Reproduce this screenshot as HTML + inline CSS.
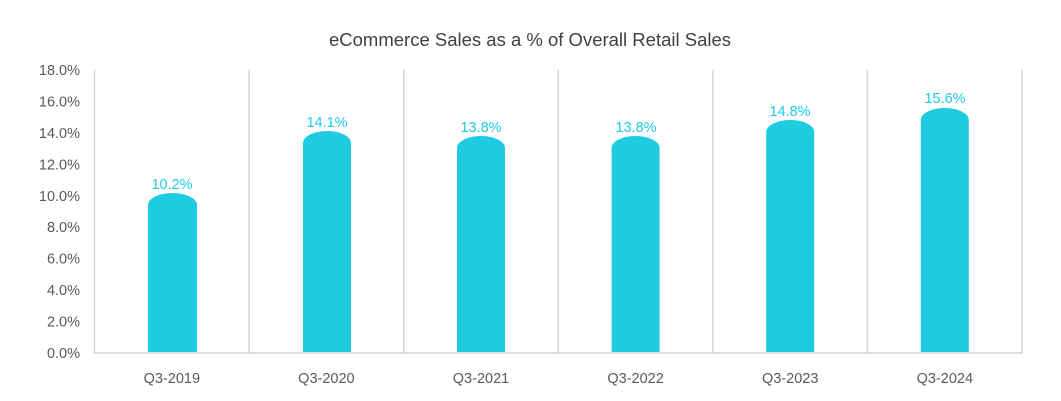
<!DOCTYPE html>
<html><head><meta charset="utf-8"><style>
html,body{margin:0;padding:0;background:#fff;}
svg{display:block;font-family:"Liberation Sans",sans-serif;}
</style></head><body>
<svg width="1061" height="401" viewBox="0 0 1061 401" xmlns="http://www.w3.org/2000/svg">
<rect width="1061" height="401" fill="#fff"/>
<text x="530" y="46" text-anchor="middle" font-size="18.5" fill="#404040">eCommerce Sales as a % of Overall Retail Sales</text>
<g stroke="#d3d3d3" stroke-width="1.5">
<line x1="94.5" y1="70" x2="94.5" y2="353"/>
<line x1="249.1" y1="70" x2="249.1" y2="353"/>
<line x1="403.7" y1="70" x2="403.7" y2="353"/>
<line x1="558.3" y1="70" x2="558.3" y2="353"/>
<line x1="712.9" y1="70" x2="712.9" y2="353"/>
<line x1="867.5" y1="70" x2="867.5" y2="353"/>
<line x1="1022" y1="70" x2="1022" y2="353"/>
<line x1="94.5" y1="353" x2="1022" y2="353"/>
</g>
<g font-size="14.5" fill="#595959" text-anchor="end">
<text x="80" y="75">18.0%</text>
<text x="80" y="106.4">16.0%</text>
<text x="80" y="137.9">14.0%</text>
<text x="80" y="169.3">12.0%</text>
<text x="80" y="200.8">10.0%</text>
<text x="80" y="232.2">8.0%</text>
<text x="80" y="263.7">6.0%</text>
<text x="80" y="295.1">4.0%</text>
<text x="80" y="326.6">2.0%</text>
<text x="80" y="358">0.0%</text>
</g>
<g font-size="14.5" fill="#595959" text-anchor="middle">
<text x="171.8" y="383">Q3-2019</text>
<text x="326.4" y="383">Q3-2020</text>
<text x="481" y="383">Q3-2021</text>
<text x="635.6" y="383">Q3-2022</text>
<text x="790.2" y="383">Q3-2023</text>
<text x="944.8" y="383">Q3-2024</text>
</g>
<g fill="#1ecbe1">
<path d="M148 352 L148 205 A24.5 12 0 0 1 197 205 L197 352 Z"/>
<path d="M303 352 L303 143 A24 12 0 0 1 351 143 L351 352 Z"/>
<path d="M457 352 L457 148 A24 12 0 0 1 505 148 L505 352 Z"/>
<path d="M611.6 352 L611.6 148 A24 12 0 0 1 659.6 148 L659.6 352 Z"/>
<path d="M766.2 352 L766.2 132 A24 12 0 0 1 814.2 132 L814.2 352 Z"/>
<path d="M920.8 352 L920.8 120 A24 12 0 0 1 968.8 120 L968.8 352 Z"/>
</g>
<g font-size="14.5" fill="#1ecbe1" text-anchor="middle">
<text x="172" y="189">10.2%</text>
<text x="327" y="127">14.1%</text>
<text x="481" y="132">13.8%</text>
<text x="636" y="132">13.8%</text>
<text x="790" y="116">14.8%</text>
<text x="945" y="103">15.6%</text>
</g>
</svg>
</body></html>
